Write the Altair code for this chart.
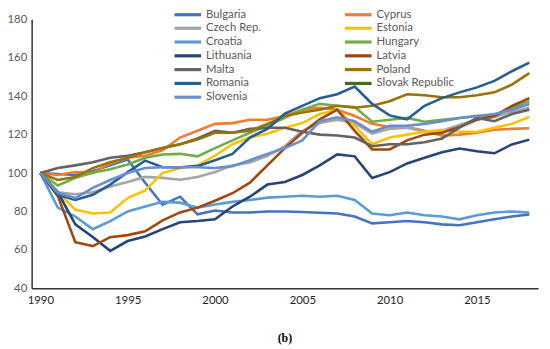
import altair as alt
import pandas as pd

years = list(range(1990, 2019))

countries = ["Bulgaria", "Cyprus", "Czech Rep.", "Estonia", "Croatia", "Hungary",
             "Lithuania", "Latvia", "Malta", "Poland", "Romania", "Slovak Republic", "Slovenia"]
colors = ["#4472C4", "#ED7D31", "#A5A5A5", "#FFC000", "#5B9BD5", "#70AD47",
          "#264478", "#9E480E", "#636363", "#997300", "#255E91", "#43682B", "#698ED0"]

bulgaria = [100, 99.5, 99, 101, 104, 107, 95, 83.5, 87.7, 78.5, 80.5, 79.5, 79.5, 80, 80,
            79.7, 79.3, 79, 77.4, 73.8, 74.4, 75, 74.4, 73.3, 72.8, 74.4, 75.9, 77.4, 78.5]
cyprus = [100, 99, 100.5, 100, 105, 108, 109, 111.8, 118.5, 122, 125.6, 126, 127.7, 127.7, 129.7,
          133, 134, 133, 129.7, 125.6, 124, 124, 122, 119.5, 120, 121, 122.5, 123, 123.3]
czech = [100, 90, 89, 90, 93, 95.4, 98, 97.5, 96.5, 98, 100.5, 104, 105.5, 109, 114,
         122, 126, 127.7, 126, 120.5, 123, 123.6, 121.5, 122, 125, 128, 129, 132, 134]
estonia = [100, 90, 81, 79, 79.5, 87, 91, 100, 102.6, 104, 109, 115, 118.5, 120.5, 123.6,
           126, 130.7, 133, 124.6, 115, 118.5, 120, 121.5, 122.5, 121.5, 121.5, 123.6, 125.6, 129.2]
croatia = [100, 82, 77.4, 70.8, 75, 80, 82.6, 85, 84.6, 82, 83.6, 85, 86, 87.2, 87.7,
           88.2, 87.7, 88.2, 86, 79, 78, 79.5, 78, 77.4, 75.9, 78, 79.5, 80, 79.5]
hungary = [100, 93.5, 97.5, 100.2, 102, 104.5, 108, 109.7, 110, 108.7, 113, 117, 121, 124.6, 128.7,
           133, 136, 135, 134.4, 126.7, 127.7, 128.7, 126.7, 127.7, 128.7, 129.7, 130, 134, 137.4]
lithuania = [100, 90, 73.3, 66.7, 59.5, 64.6, 67, 70.8, 74.4, 75, 76, 82.6, 87.7, 94, 95.4,
             99, 104, 109.7, 108.7, 97.4, 100.5, 105, 108, 110.8, 112.8, 111.3, 110.3, 114.9, 117.4]
latvia = [100, 88, 64, 62, 66.6, 67.7, 69.7, 75.4, 79.5, 82, 85.6, 89.5, 95, 104, 113,
          121, 128, 133, 122, 112.3, 112.3, 117, 120, 121, 124, 127.7, 129.7, 134.9, 139]
malta = [100, 102.6, 104, 105.6, 108, 109, 110.8, 113, 115, 118, 122, 121, 123, 123.6, 123.6,
         121.5, 120, 119.5, 118.5, 114, 115, 115, 116, 118, 123.6, 128.7, 127, 130.7, 133]
poland = [100, 96.4, 98, 102.6, 105.6, 108, 110.8, 113, 115, 117.4, 121, 121, 122, 125.6, 129.7,
          131.5, 133, 135, 134, 135, 137.4, 141, 140.5, 139.5, 139.5, 140.5, 142, 146, 152]
romania = [100, 88.7, 86, 88.7, 94, 100.5, 106.5, 103, 103, 103.6, 106.7, 110, 118.5, 123, 131,
           135, 139, 141, 145, 136, 130, 128, 135, 139, 142, 144.6, 148, 153, 157.5]
slovak = []
slovenia = [100, 89.7, 87, 92.3, 96.4, 100, 102.6, 103, 103, 103, 102.6, 103.6, 106.7, 110, 113,
            117, 127, 129, 127, 121.5, 124.6, 124.6, 125.6, 127, 128.7, 129.7, 130.7, 133, 135.9]

series = [bulgaria, cyprus, czech, estonia, croatia, hungary, lithuania, latvia,
          malta, poland, romania, slovak, slovenia]

x_labels = [1990, 1995, 2000, 2005, 2010, 2015]
y_ticks = [40, 60, 80, 100, 120, 140, 160, 180]

rows = []
for i, (name, vals) in enumerate(zip(countries, series)):
    for yr, v in zip(years, vals):
        rows.append({"year": yr, "value": v, "country": name, "order": i})
df = pd.DataFrame(rows)

# legend fills column by column: reorder so it reads row by row as in the reference
legend_order = countries[0::2] + countries[1::2]
legend_colors = [colors[countries.index(c)] for c in legend_order]

FONT = "Lato"

chart = alt.Chart(df).mark_line(strokeWidth=2.6).encode(
    x=alt.X("year:Q",
            scale=alt.Scale(domain=[1989.5, 2018.5], nice=False, zero=False),
            axis=alt.Axis(values=x_labels, format="d", title=None, ticks=False, grid=False,
                          labelFont=FONT, labelFontSize=11.5, labelColor="#222222",
                          labelPadding=6, domainColor="#333333", domainWidth=1.5)),
    y=alt.Y("value:Q",
            scale=alt.Scale(domain=[40, 180], nice=False, zero=False),
            axis=alt.Axis(values=y_ticks, title=None, ticks=False, grid=False,
                          labelFont=FONT, labelFontSize=11.5, labelColor="#595959",
                          labelPadding=5, domainColor="#333333", domainWidth=1.5)),
    color=alt.Color("country:N",
                    scale=alt.Scale(domain=legend_order, range=legend_colors),
                    legend=alt.Legend(title=None, orient="none", legendX=151.5, legendY=-12,
                                      direction="vertical",
                                      columns=2, columnPadding=78, rowPadding=0,
                                      symbolType="M-2.7,0H2.7", symbolSize=100,
                                      symbolStrokeWidth=3.2, labelFont=FONT,
                                      labelFontSize=11.5, labelColor="#595959",
                                      labelOffset=11.5, padding=0)),
    detail="order:O",
    order="year:Q",
).properties(
    width=514,
    height=273,
    padding={"left": 24, "top": 9, "right": 4, "bottom": 56},
    autosize=alt.AutoSizeParams(type="none"),
    title=alt.TitleParams(text="(b)", orient="bottom", anchor="middle",
                          font="Liberation Serif", fontSize=12, fontWeight="bold",
                          color="#000000", offset=28),
).configure_view(stroke=None)

chart.save("out.html", embed_options={"renderer": "svg", "actions": False})
